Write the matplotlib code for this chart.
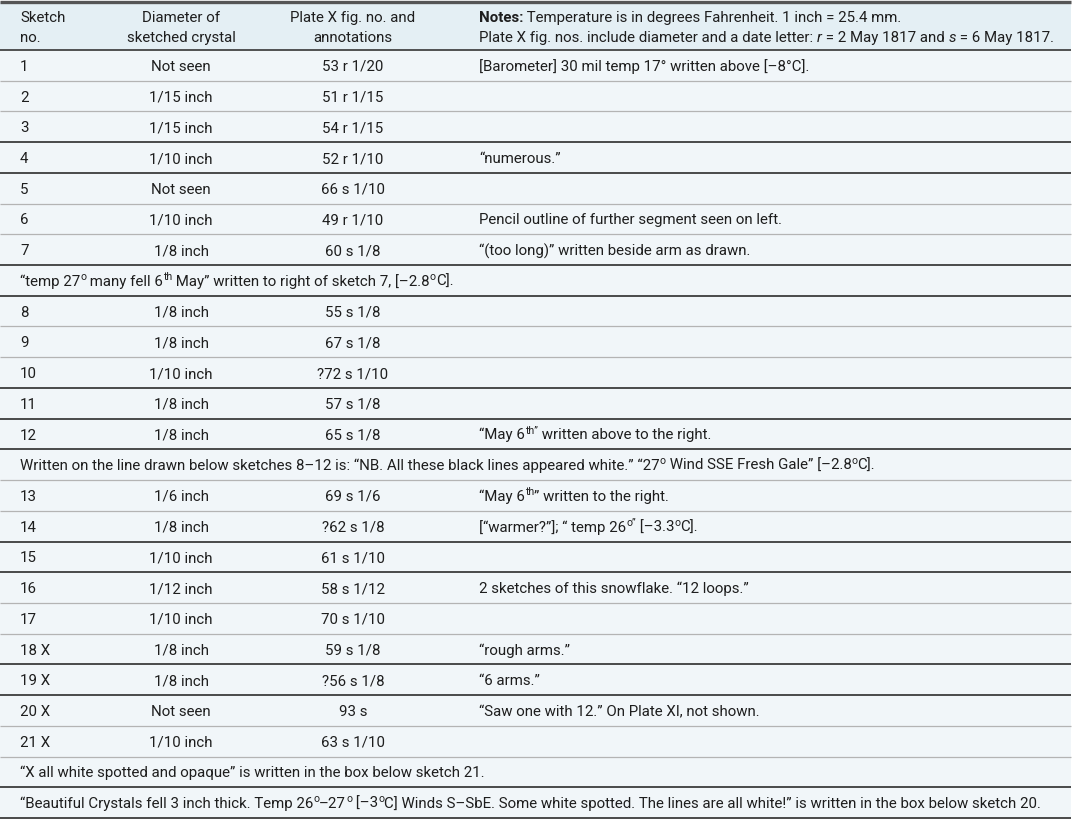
import re
import matplotlib
matplotlib.use("Agg")
import matplotlib.pyplot as plt
from matplotlib.patches import Rectangle

plt.rcParams['font.family'] = ['Roboto', 'DejaVu Sans']

# ---- table content ----
sketch_no = ["1", "2", "3", "4", "5", "6", "7", "8", "9", "10", "11", "12",
             "13", "14", "15", "16", "17", "18 X", "19 X", "20 X", "21 X"]
diameter = ["Not seen", "1/15 inch", "1/15 inch", "1/10 inch", "Not seen",
            "1/10 inch", "1/8 inch", "1/8 inch", "1/8 inch", "1/10 inch",
            "1/8 inch", "1/8 inch", "1/6 inch", "1/8 inch", "1/10 inch",
            "1/12 inch", "1/10 inch", "1/8 inch", "1/8 inch", "Not seen",
            "1/10 inch"]
plate_fig = ["53 r 1/20", "51 r 1/15", "54 r 1/15", "52 r 1/10", "66 s 1/10",
             "49 r 1/10", "60 s 1/8", "55 s 1/8", "67 s 1/8", "?72 s 1/10",
             "57 s 1/8", "65 s 1/8", "69 s 1/6", "?62 s 1/8", "61 s 1/10",
             "58 s 1/12", "70 s 1/10", "59 s 1/8", "?56 s 1/8", "93 s",
             "63 s 1/10"]
notes = ["[Barometer] 30 mil temp 17° written above [–8°C].", "", "",
         "“numerous.”", "", "Pencil outline of further segment seen on left.",
         "“(too long)” written beside arm as drawn.", "", "", "", "",
         "“May 6^{th”} written above to the right.",
         "“May 6^{th}” written to the right.",
         "[“warmer?”]; “ temp 26^{o”} [–3.3^{o}C].", "",
         "2 sketches of this snowflake. “12 loops.”", "",
         "“rough arms.”", "“6 arms.”",
         "“Saw one with 12.” On Plate XI, not shown.", ""]

# full-width rows placed after the given sketch number
span_after = [7, 12, 21, 21]
span_text = [
    "“temp 27^{o} many fell 6^{th} May” written to right of sketch 7, [–2.8^{o}C].",
    "Written on the line drawn below sketches 8–12 is: “NB. All these black lines "
    "appeared white.” “27^{o} Wind SSE Fresh Gale” [–2.8^{o}C].",
    "“X all white spotted and opaque” is written in the box below sketch 21.",
    "“Beautiful Crystals fell 3 inch thick. Temp 26^{o}–27^{o} [–3^{o}C] Winds S–SbE. "
    "Some white spotted. The lines are all white!” is written in the box below sketch 20.",
]

headers = ["Sketch\nno.", "Diameter of\nsketched crystal", "Plate X fig. no. and\nannotations"]
notes_header = ["**Notes:** Temperature is in degrees Fahrenheit. 1 inch = 25.4 mm.",
                "Plate X fig. nos. include diameter and a date letter: _r_ = 2 May 1817 "
                "and _s_ = 6 May 1817."]

# rules drawn darker in the reference (index of body row above the rule)
heavy_rules = [2, 3, 6, 7, 10, 11, 12, 15, 16, 19, 20, 23, 24]

W, H = 1073, 819
FS = 10.8
TXT = "#1e1e1e"

fig = plt.figure(figsize=(W / 100, H / 100), dpi=100)
ax = fig.add_axes([0, 0, 1, 1])
ax.set_xlim(0, W)
ax.set_ylim(H, 0)
ax.axis("off")
renderer = fig.canvas.get_renderer()


def parse(s):
    parts = []
    for m in re.finditer(r"\*\*(.+?)\*\*|_(.+?)_|\^\{(.+?)\}|([^*_^]+)", s):
        if m.group(1):
            parts.append((m.group(1), "b"))
        elif m.group(2):
            parts.append((m.group(2), "i"))
        elif m.group(3):
            parts.append((m.group(3), "sup"))
        else:
            parts.append((m.group(4), "n"))
    return parts


def width(t):
    # measure with a sentinel so trailing spaces count
    kw = dict(fontsize=t.get_fontsize(), fontweight=t.get_fontweight(),
              fontstyle=t.get_fontstyle())
    bar = ax.text(0, 0, "|", **kw)
    w_all = ax.text(0, 0, t.get_text() + "|", **kw)
    w = (w_all.get_window_extent(renderer).width
         - bar.get_window_extent(renderer).width)
    bar.remove()
    w_all.remove()
    return w


def rich(x, y, s, ha="left"):
    pieces = []
    for txt, kind in parse(s):
        kw = dict(fontsize=FS, color=TXT, va="baseline")
        dy = 0
        if kind == "b":
            kw["fontweight"] = "bold"
        elif kind == "i":
            kw["fontstyle"] = "italic"
        elif kind == "sup":
            kw["fontsize"] = FS * 0.7
            dy = -6
        t = ax.text(0, y + dy, txt, **kw)
        pieces.append((t, width(t)))
    total = sum(w for _, w in pieces)
    cx = x - total / 2 if ha == "center" else x
    for t, w in pieces:
        t.set_x(cx)
        cx += w


# ---- layout ----
top, head_bot = 2, 50
body = []
for i in range(len(sketch_no)):
    body.append(("row", i))
    for k, a in enumerate(span_after):
        if a == i + 1:
            body.append(("span", k))
row_h = (818 - head_bot) / len(body)

ax.add_patch(Rectangle((0, top), 1071, head_bot - top, facecolor="#e4eff4", edgecolor="none"))
ax.add_patch(Rectangle((0, head_bot), 1071, 818 - head_bot, facecolor="#f1f6f9", edgecolor="none"))
ax.plot([0, 1071], [top, top], color="#555555", lw=2.4, solid_capstyle="butt")
ax.plot([0, 1071], [head_bot, head_bot], color="#444444", lw=1.3, solid_capstyle="butt")

col_x = [20, 181, 353, 479]
ha_col = ["left", "center", "center", "left"]

for c, h in enumerate(headers):
    for j, line in enumerate(h.split("\n")):
        rich(col_x[c], 22 + j * 20, line, ha=ha_col[c])
for j, line in enumerate(notes_header):
    rich(col_x[3], 22 + j * 20, line)

for r, (kind, idx) in enumerate(body):
    y0 = head_bot + r * row_h
    base = y0 + row_h / 2 + 5.5
    if kind == "row":
        rich(col_x[0], base, sketch_no[idx])
        rich(col_x[1], base, diameter[idx], ha="center")
        rich(col_x[2], base, plate_fig[idx], ha="center")
        if notes[idx]:
            rich(col_x[3], base, notes[idx])
    else:
        rich(col_x[0], base, span_text[idx])
    y1 = y0 + row_h
    if r in heavy_rules:
        ax.plot([0, 1071], [y1, y1], color="#3c3c3c", lw=1.3, solid_capstyle="butt")
    else:
        ax.plot([0, 1071], [y1, y1], color="#b4b4b4", lw=0.9, solid_capstyle="butt")

fig.savefig("out.png", dpi=100)
